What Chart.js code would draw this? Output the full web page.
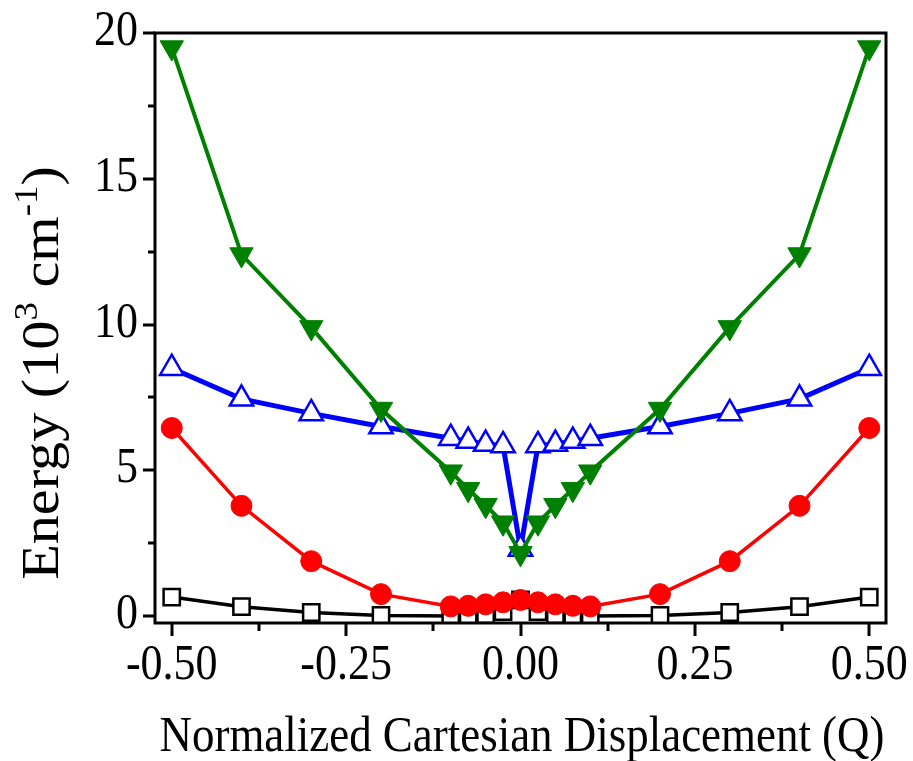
<!DOCTYPE html>
<html lang="en">
<head>
    <meta charset="UTF-8">
    <title>Energy vs Normalized Cartesian Displacement</title>
    <script src="https://cdn.jsdelivr.net/npm/chart.js"></script>
    <style>
        html, body { margin: 0; padding: 0; background: #fff; }
        #wrap { width: 913px; height: 761px; }
    </style>
</head>
<body>
    <div id="wrap"><canvas id="myChart"></canvas></div>
    <script>
        // displacement Q
        const qValues = [-0.5, -0.4, -0.3, -0.2, -0.1, -0.075, -0.05, -0.025, 0, 0.025, 0.05, 0.075, 0.1, 0.2, 0.3, 0.4, 0.5];

        // energies in 10^3 cm^-1
        const blackSquares = [0.65, 0.32, 0.12, 0.02, 0.0, 0.02, 0.04, 0.15, 0.55, 0.15, 0.04, 0.02, 0.0, 0.02, 0.12, 0.32, 0.65];
        const redCircles = [6.45, 3.78, 1.88, 0.75, 0.33, 0.35, 0.4, 0.47, 0.55, 0.47, 0.4, 0.35, 0.33, 0.75, 1.88, 3.78, 6.45];
        const blueTriangles = [8.5, 7.45, 6.95, 6.5, 6.1, 6.0, 5.9, 5.85, 2.3, 5.85, 5.9, 6.0, 6.1, 6.5, 6.95, 7.45, 8.5];
        const greenTriangles = [19.5, 12.4, 9.9, 7.1, 4.95, 4.35, 3.8, 3.2, 2.15, 3.2, 3.8, 4.35, 4.95, 7.1, 9.9, 12.4, 19.5];

        const xTicks = [-0.5, -0.25, 0, 0.25, 0.5];
        const xTickLabels = ['-0.50', '-0.25', '0.00', '0.25', '0.50'];
        const xMinorTicks = [-0.375, -0.125, 0.125, 0.375];
        const yTicks = [0, 5, 10, 15, 20];
        const yTickLabels = ['0', '5', '10', '15', '20'];
        const yMinorTicks = [2.5, 7.5, 12.5, 17.5];

        const xTitle = 'Normalized Cartesian Displacement (Q)';

        function toPoints(ys) {
            return qValues.map((q, i) => ({ x: q, y: ys[i] }));
        }

        const FONT = '"Liberation Serif"';

        function squeezedText(ctx, text, x, y, sx, align) {
            const w = ctx.measureText(text).width * sx;
            let x0 = x;
            if (align === 'center') x0 = x - w / 2;
            if (align === 'right') x0 = x - w;
            ctx.save();
            ctx.translate(x0, y);
            ctx.scale(sx, 1);
            ctx.textAlign = 'left';
            ctx.fillText(text, 0, 0);
            ctx.restore();
        }

        const framePlugin = {
            id: 'frame',
            afterDraw(chart) {
                const ctx = chart.ctx;
                const a = chart.chartArea;
                const xs = chart.scales.x;
                const ys = chart.scales.y;
                ctx.save();
                ctx.strokeStyle = '#000';
                ctx.lineWidth = 3;
                ctx.lineCap = 'butt';
                ctx.strokeRect(a.left, a.top, a.right - a.left, a.bottom - a.top);

                ctx.beginPath();
                xTicks.forEach(v => {
                    const px = Math.round(xs.getPixelForValue(v));
                    ctx.moveTo(px, a.bottom);
                    ctx.lineTo(px, a.bottom + 13);
                });
                xMinorTicks.forEach(v => {
                    const px = Math.round(xs.getPixelForValue(v));
                    ctx.moveTo(px, a.bottom);
                    ctx.lineTo(px, a.bottom + 8);
                });
                yTicks.forEach(v => {
                    const py = Math.round(ys.getPixelForValue(v));
                    ctx.moveTo(a.left, py);
                    ctx.lineTo(a.left - 12, py);
                });
                yMinorTicks.forEach(v => {
                    const py = Math.round(ys.getPixelForValue(v));
                    ctx.moveTo(a.left, py);
                    ctx.lineTo(a.left - 7, py);
                });
                ctx.stroke();

                ctx.fillStyle = '#000';
                ctx.font = '50px ' + FONT;
                ctx.textBaseline = 'alphabetic';
                xTicks.forEach((v, i) => {
                    squeezedText(ctx, xTickLabels[i], xs.getPixelForValue(v), a.bottom + 56, 0.88, 'center');
                });
                ctx.textBaseline = 'middle';
                yTicks.forEach((v, i) => {
                    squeezedText(ctx, yTickLabels[i], a.left - 17, ys.getPixelForValue(v) - 1, 0.88, 'right');
                });

                // x title
                ctx.textBaseline = 'alphabetic';
                ctx.font = '50px ' + FONT;
                const tw = ctx.measureText(xTitle).width;
                squeezedText(ctx, xTitle, 522, 751, 725 / tw, 'center');

                // y title with superscripts (stretched along its length like the original)
                const parts = [
                    { t: 'Energy (10', sup: false },
                    { t: '3', sup: true },
                    { t: ' cm', sup: false },
                    { t: '-1', sup: true },
                    { t: ')', sup: false }
                ];
                const sx = 1.12;
                let total = 0;
                parts.forEach(p => {
                    ctx.font = (p.sup ? '33px ' : '52px ') + FONT;
                    p.w = ctx.measureText(p.t).width * sx;
                    total += p.w;
                });
                ctx.save();
                ctx.translate(58, 373);
                ctx.rotate(-Math.PI / 2);
                let cx = -total / 2;
                parts.forEach(p => {
                    ctx.font = (p.sup ? '33px ' : '52px ') + FONT;
                    ctx.save();
                    ctx.translate(cx, p.sup ? -21 : 0);
                    ctx.scale(sx, 1);
                    ctx.fillText(p.t, 0, 0);
                    ctx.restore();
                    cx += p.w;
                });
                ctx.restore();
                ctx.restore();
            }
        };

        function createChart() {
            const ctx = document.getElementById('myChart').getContext('2d');
            const myChart = new Chart(ctx, {
                type: 'scatter',
                data: {
                    datasets: [
                        {
                            label: 'S3',
                            data: toPoints(greenTriangles),
                            showLine: true,
                            borderColor: '#008000',
                            backgroundColor: '#008000',
                            borderWidth: 4,
                            pointStyle: 'triangle',
                            rotation: 180,
                            pointRadius: 13.5,
                            pointBorderWidth: 1,
                            order: 1
                        },
                        {
                            label: 'S2',
                            data: toPoints(blueTriangles),
                            showLine: true,
                            borderColor: '#0000ff',
                            backgroundColor: '#ffffff',
                            borderWidth: 5,
                            pointStyle: 'triangle',
                            pointRadius: 13.5,
                            pointBorderWidth: 2.5,
                            order: 2
                        },
                        {
                            label: 'S1',
                            data: toPoints(redCircles),
                            showLine: true,
                            borderColor: '#ff0000',
                            backgroundColor: '#ff0000',
                            borderWidth: 3.5,
                            pointStyle: 'circle',
                            pointRadius: 10.5,
                            pointBorderWidth: 1,
                            order: 3
                        },
                        {
                            label: 'S0',
                            data: toPoints(blackSquares),
                            showLine: true,
                            borderColor: '#000000',
                            backgroundColor: '#ffffff',
                            borderWidth: 3.5,
                            pointStyle: 'rect',
                            pointRadius: 11.5,
                            pointBorderWidth: 2.5,
                            order: 4
                        }
                    ]
                },
                options: {
                    responsive: true,
                    maintainAspectRatio: false,
                    animation: false,
                    layout: { padding: { top: 33, right: 27, left: 0, bottom: 0 } },
                    plugins: {
                        legend: { display: false },
                        tooltip: { enabled: false }
                    },
                    scales: {
                        x: {
                            type: 'linear',
                            min: -0.524,
                            max: 0.524,
                            grid: { display: false },
                            border: { display: false },
                            ticks: { display: false },
                            afterFit(scale) { scale.height = 138; }
                        },
                        y: {
                            min: -0.24,
                            max: 20,
                            grid: { display: false },
                            border: { display: false },
                            ticks: { display: false },
                            afterFit(scale) { scale.width = 155; }
                        }
                    }
                },
                plugins: [framePlugin]
            });
        }

        document.fonts.load('50px "Liberation Serif"').then(createChart, createChart);
    </script>
</body>
</html>
